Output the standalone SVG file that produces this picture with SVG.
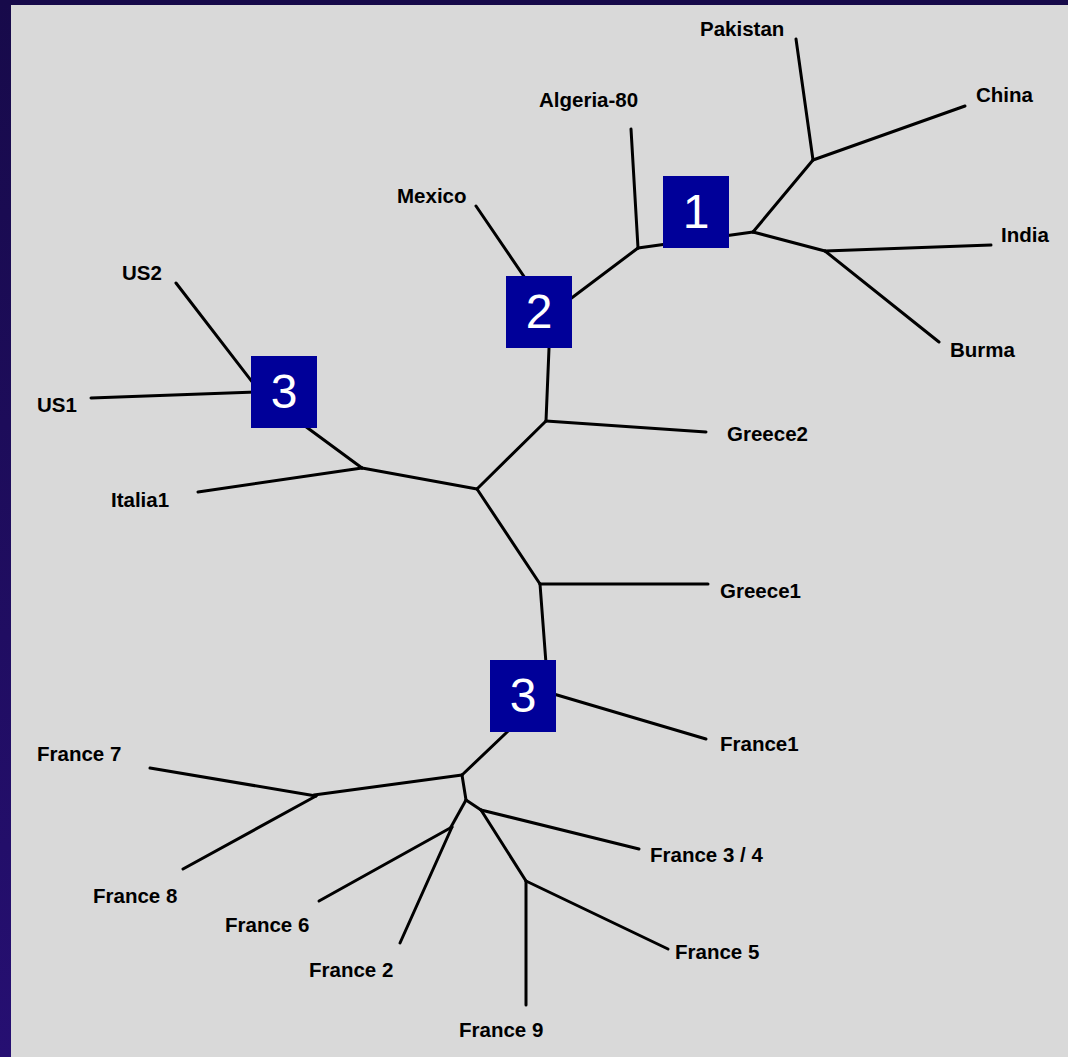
<svg xmlns="http://www.w3.org/2000/svg" width="1068" height="1057" viewBox="0 0 1068 1057">
<defs>
<linearGradient id="bg" x1="0" y1="0" x2="0" y2="1">
<stop offset="0" stop-color="#170a4a"/>
<stop offset="1" stop-color="#260f72"/>
</linearGradient>
<style>
.lbl{font-family:"Liberation Sans",Arial,sans-serif;font-weight:bold;font-size:20.5px;fill:#000}
.edge{stroke:#000;stroke-width:3;stroke-linecap:round;fill:none}
.box{fill:#000099}
.num{font-family:"Liberation Sans",Arial,sans-serif;font-size:48px;fill:#fff;text-anchor:middle}
</style>
</defs>
<rect x="0" y="0" width="1068" height="1057" fill="url(#bg)"/>
<rect x="11" y="5" width="1057" height="1052" fill="#d9d9d9"/>
<g id="connectors" class="edge">
<line x1="796" y1="39" x2="813" y2="160"/>
<line x1="813" y1="160" x2="965" y2="106"/>
<line x1="813" y1="160" x2="753" y2="232"/>
<line x1="753" y1="232" x2="825" y2="251"/>
<line x1="825" y1="251" x2="991" y2="245"/>
<line x1="825" y1="251" x2="939" y2="342"/>
<line x1="638" y1="248" x2="753" y2="232"/>
<line x1="631" y1="129" x2="638" y2="248"/>
<line x1="638" y1="248" x2="545" y2="318"/>
<line x1="476" y1="206" x2="540" y2="300"/>
<line x1="546" y1="421" x2="551" y2="300"/>
<line x1="546" y1="421" x2="706" y2="432"/>
<line x1="546" y1="421" x2="477" y2="489"/>
<line x1="477" y1="489" x2="362" y2="468"/>
<line x1="198" y1="492" x2="362" y2="468"/>
<line x1="362" y1="468" x2="290" y2="415"/>
<line x1="176" y1="283" x2="280" y2="418"/>
<line x1="91" y1="398" x2="285" y2="391"/>
<line x1="477" y1="489" x2="540" y2="584"/>
<line x1="540" y1="584" x2="708" y2="584"/>
<line x1="540" y1="584" x2="548" y2="690"/>
<line x1="530" y1="687" x2="706" y2="739"/>
<line x1="462" y1="775" x2="525" y2="715"/>
<line x1="462" y1="775" x2="314" y2="795"/>
<line x1="150" y1="768" x2="316" y2="796"/>
<line x1="183" y1="869" x2="316" y2="796"/>
<line x1="462" y1="775" x2="466" y2="800"/>
<line x1="466" y1="800" x2="451" y2="827"/>
<line x1="319" y1="901" x2="452" y2="827"/>
<line x1="400" y1="943" x2="452" y2="827"/>
<line x1="466" y1="800" x2="481" y2="810"/>
<line x1="481" y1="810" x2="639" y2="849"/>
<line x1="481" y1="810" x2="526" y2="881"/>
<line x1="526" y1="881" x2="526" y2="1005"/>
<line x1="526" y1="881" x2="668" y2="949"/>
</g>
<g id="box1"><rect class="box" x="663" y="176" width="66" height="72"/><text class="num" x="696" y="228">1</text></g>
<g id="box2"><rect class="box" x="506" y="276" width="66" height="72"/><text class="num" x="539" y="328">2</text></g>
<g id="box3a"><rect class="box" x="251" y="356" width="66" height="72"/><text class="num" x="284" y="408">3</text></g>
<g id="box3b"><rect class="box" x="490" y="660" width="66" height="72"/><text class="num" x="523" y="712">3</text></g>
<g id="n-pakistan"><text class="lbl" x="700" y="36">Pakistan</text></g>
<g id="n-china"><text class="lbl" x="976" y="102">China</text></g>
<g id="n-algeria"><text class="lbl" x="539" y="107">Algeria-80</text></g>
<g id="n-mexico"><text class="lbl" x="397" y="203">Mexico</text></g>
<g id="n-india"><text class="lbl" x="1001" y="242">India</text></g>
<g id="n-us2"><text class="lbl" x="122" y="280">US2</text></g>
<g id="n-burma"><text class="lbl" x="950" y="357">Burma</text></g>
<g id="n-us1"><text class="lbl" x="37" y="412">US1</text></g>
<g id="n-greece2"><text class="lbl" x="727" y="441">Greece2</text></g>
<g id="n-italia1"><text class="lbl" x="111" y="507">Italia1</text></g>
<g id="n-greece1"><text class="lbl" x="720" y="598">Greece1</text></g>
<g id="n-france1"><text class="lbl" x="720" y="751">France1</text></g>
<g id="n-france7"><text class="lbl" x="37" y="761">France 7</text></g>
<g id="n-france34"><text class="lbl" x="650" y="862">France 3 / 4</text></g>
<g id="n-france8"><text class="lbl" x="93" y="903">France 8</text></g>
<g id="n-france6"><text class="lbl" x="225" y="932">France 6</text></g>
<g id="n-france5"><text class="lbl" x="675" y="959">France 5</text></g>
<g id="n-france2"><text class="lbl" x="309" y="977">France 2</text></g>
<g id="n-france9"><text class="lbl" x="459" y="1037">France 9</text></g>
</svg>
